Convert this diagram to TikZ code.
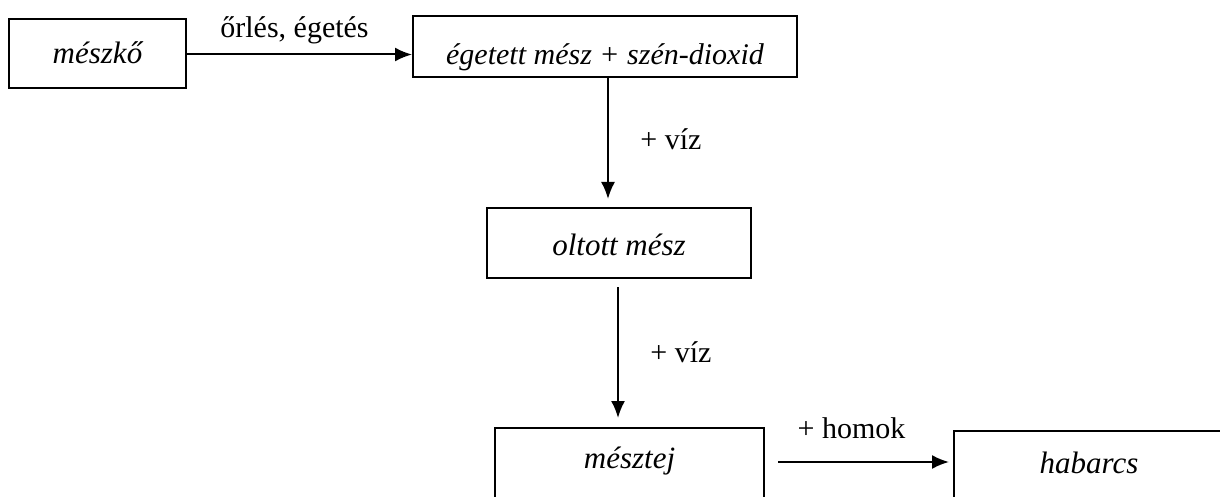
\documentclass[tikz,border=0pt]{standalone}
\usepackage{fontspec}
\setmainfont{Liberation Serif}
\usetikzlibrary{arrows.meta}
\tikzset{
  doboz/.style={draw, line width=2pt, inner sep=0pt, text depth=0pt, font=\fontsize{31}{36}\selectfont\itshape},
  nyil/.style={line width=2pt, -{Latex[length=17pt,width=14pt]}},
  felirat/.style={font=\fontsize{30}{36}\selectfont}
}
\begin{document}
\begin{tikzpicture}[x=1pt, y=-1pt]
	\useasboundingbox (0,0) rectangle (1220,497);
	\node[doboz, minimum width=177, minimum height=69, text height=20pt] (meszko) at (97.5,53.5) {mészkő};
	\node[doboz, minimum width=384, minimum height=61, text height=36pt, font=\fontsize{30}{36}\selectfont\itshape] (egetett) at (605,47) {égetett mész + szén-dioxid};
	\node[doboz, minimum width=264, minimum height=70, text height=24pt] (oltott) at (619,243) {oltott mész};
	\node[doboz, minimum width=269, text height=40pt, text depth=45pt, anchor=north] (mesztej) at (629.5,427) {mésztej};
	\node[doboz, minimum width=270, text height=42pt, text depth=45pt, anchor=north] (habarcs) at (1089,430) {habarcs};
	\draw[nyil] ([yshift=-1pt]meszko.east) -- ([yshift=-1pt]meszko.east -| egetett.west) node[midway, above=6pt, xshift=-5pt, felirat] (orles) {őrlés, égetés};%elso lepes
	\draw[nyil] ([xshift=3pt]egetett.south) -- ([xshift=-11pt, yshift=8pt]oltott.north) node[midway, right=28pt, felirat] (viz1) {+ víz};
	\draw[nyil] ([xshift=-1pt, yshift=-8pt]oltott.south) -- ([xshift=-11.5pt, yshift=9pt]mesztej.north) node[midway, right=28pt, felirat] (viz2) {+ víz};
	\draw[nyil] ([xshift=13pt, yshift=-35pt]mesztej.north east) -- ([xshift=-4pt, yshift=-32pt]habarcs.north west) node[midway, above=19pt, xshift=-12pt, felirat] (homok) {+ homok};
	\end{tikzpicture}
\end{document}
